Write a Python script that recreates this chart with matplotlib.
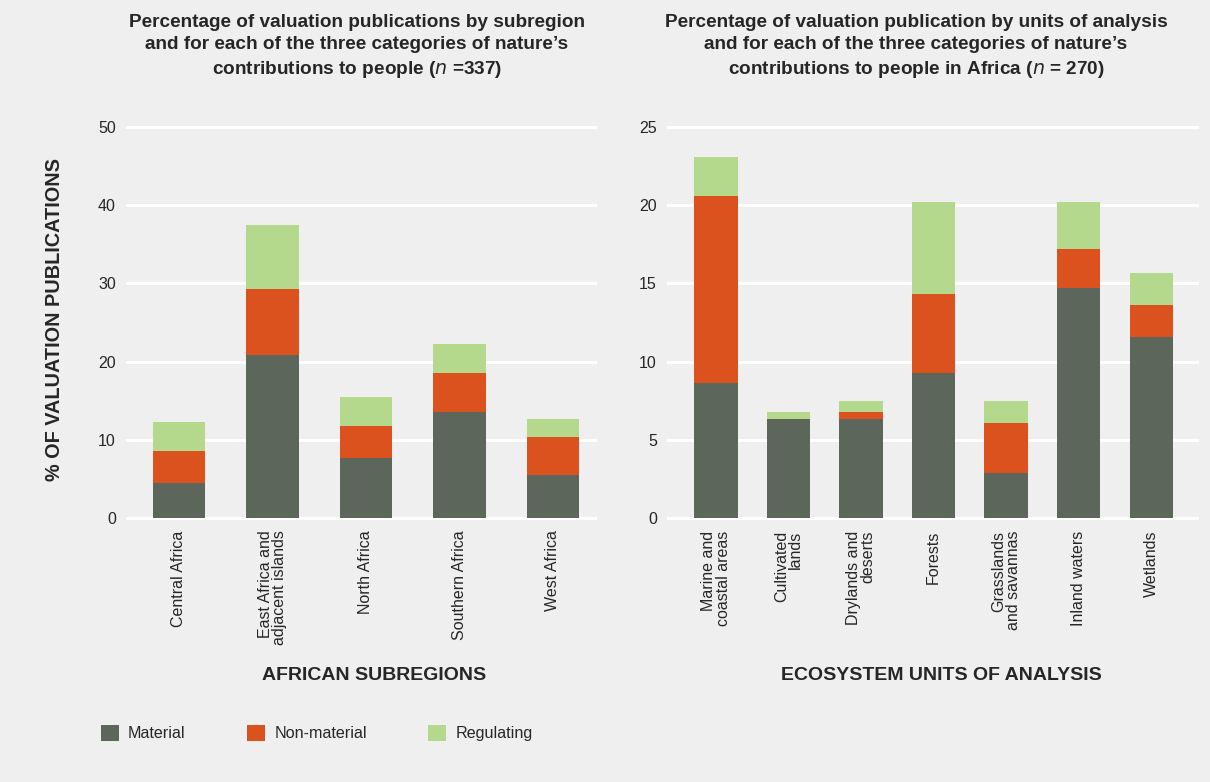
import matplotlib
matplotlib.use("Agg")
import matplotlib.pyplot as plt
import numpy as np
from matplotlib.patches import Patch

plt.rcParams['font.family'] = ['Liberation Sans', 'DejaVu Sans']

# left panel: subregions
subregions = ["Central Africa", "East Africa and\nadjacent islands", "North Africa",
              "Southern Africa", "West Africa"]
sub_material = [4.5, 20.8, 7.7, 13.5, 5.5]
sub_nonmaterial = [4.1, 8.5, 4.1, 5.0, 4.8]
sub_regulating = [3.7, 8.2, 3.7, 3.7, 2.3]

# right panel: ecosystem units
units = ["Marine and\ncoastal areas", "Cultivated\nlands", "Drylands and\ndeserts", "Forests",
         "Grasslands\nand savannas", "Inland waters", "Wetlands"]
unit_material = [8.6, 6.3, 6.3, 9.3, 2.9, 14.7, 11.55]
unit_nonmaterial = [12.0, 0.0, 0.45, 5.0, 3.15, 2.5, 2.05]
unit_regulating = [2.5, 0.5, 0.7, 5.9, 1.4, 3.0, 2.05]

series_names = ["Material", "Non-material", "Regulating"]
colors = ["#5c665a", "#db521e", "#b4d98c"]
BG = "#efefef"
TXT = "#262626"

W, H = 1210, 782
fig = plt.figure(figsize=(W / 100, H / 100), dpi=100, facecolor=BG)


def px_axes(x0, y0, x1, y1):
    # pixel box (top-left origin) -> figure fraction axes
    return fig.add_axes([x0 / W, 1 - y1 / H, (x1 - x0) / W, (y1 - y0) / H])


def stacked(ax, cats, mat, nonmat, reg, ymax, ystep, width, xlim):
    x = np.arange(len(cats))
    mat = np.array(mat)
    nonmat = np.array(nonmat)
    reg = np.array(reg)
    ax.bar(x, mat, width, color=colors[0], zorder=3)
    ax.bar(x, nonmat, width, bottom=mat, color=colors[1], zorder=3)
    ax.bar(x, reg, width, bottom=mat + nonmat, color=colors[2], zorder=3)
    ax.set_facecolor(BG)
    ax.set_xlim(*xlim)
    ax.set_ylim(0, ymax)
    ax.set_yticks(np.arange(0, ymax + 0.1, ystep))
    for v in np.arange(0, ymax + 0.1, ystep):
        ax.axhline(v, color="white", lw=2.2, zorder=1, clip_on=False)
    for s in ax.spines.values():
        s.set_visible(False)
    ax.tick_params(axis="y", length=0, pad=8, labelsize=11.5, labelcolor=TXT)
    ax.tick_params(axis="x", length=0, pad=9)
    ax.set_xticks(x)
    ax.set_xticklabels(cats, rotation=90, fontsize=11.5, color=TXT,
                       va="top", ha="center", multialignment="right",
                       linespacing=0.95)


ax1 = px_axes(127, 127, 595, 518)
stacked(ax1, subregions, sub_material, sub_nonmaterial, sub_regulating,
        50, 10, 0.56, (-0.556, 4.45))

ax2 = px_axes(668, 127, 1197, 518)
stacked(ax2, units, unit_material, unit_nonmaterial, unit_regulating,
        25, 5, 0.6, (-0.66, 6.63))

# titles
fig.text(357 / W, 1 - 14 / H,
         "Percentage of valuation publications by subregion\n"
         "and for each of the three categories of nature\u2019s\n"
         "contributions to people ($\\mathit{n}$ =337)",
         ha="center", va="top", fontsize=13.7, fontweight="bold",
         color=TXT, linespacing=1.4)
fig.text(916 / W, 1 - 14 / H,
         "Percentage of valuation publication by units of analysis\n"
         "and for each of the three categories of nature\u2019s\n"
         "contributions to people in Africa ($\\mathit{n}$ = 270)",
         ha="center", va="top", fontsize=13.7, fontweight="bold",
         color=TXT, linespacing=1.4)

# axis labels
fig.text(55 / W, 1 - 320 / H, "% OF VALUATION PUBLICATIONS", rotation=90,
         ha="center", va="center", fontsize=14.3, fontweight="bold", color=TXT)
fig.text(374 / W, 1 - 675 / H, "AFRICAN SUBREGIONS", ha="center", va="center",
         fontsize=14, fontweight="bold", color=TXT)
fig.text(941 / W, 1 - 675 / H, "ECOSYSTEM UNITS OF ANALYSIS", ha="center",
         va="center", fontsize=14, fontweight="bold", color=TXT)

# legend
handles = [Patch(facecolor=c, edgecolor="none") for c in colors]
fig.legend(handles, series_names, loc="center left",
           bbox_to_anchor=(86 / W, 1 - 733 / H), ncol=3, frameon=False,
           fontsize=11.6, handlelength=1.15, handleheight=1.15,
           handletextpad=0.55, columnspacing=3.8, labelcolor=TXT)

fig.savefig("out.png", dpi=100, facecolor=BG)
